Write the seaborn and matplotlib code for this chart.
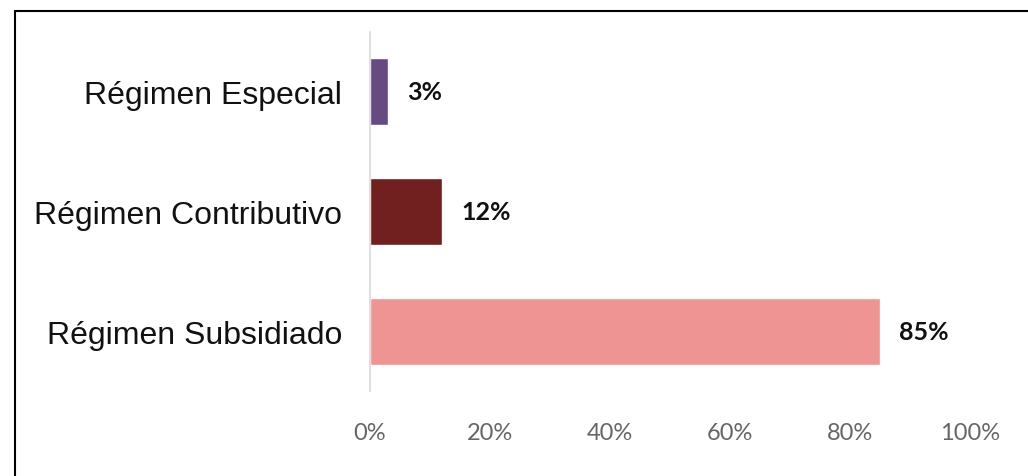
import matplotlib
matplotlib.use("Agg")
import matplotlib.pyplot as plt
import seaborn as sns
import pandas as pd
from matplotlib.lines import Line2D
from matplotlib.ticker import PercentFormatter

# Datos
categorias = ["Régimen Especial", "Régimen Contributivo", "Régimen Subsidiado"]
valores = [0.03, 0.12, 0.85]
etiquetas = ["3%", "12%", "85%"]
colores = ["#684A82", "#711F1F", "#EE9594"]

df = pd.DataFrame({"categoria": categorias, "valor": valores})

sns.set_style("white")

fig = plt.figure(figsize=(10.28, 4.77), dpi=100)
ax = fig.add_axes([370 / 1028, 1 - 392 / 477, 600 / 1028, (392 - 33) / 477])

sns.barplot(data=df, x="valor", y="categoria", hue="categoria",
            palette=colores, width=0.56, legend=False, ax=ax, saturation=1)

ax.set_xlim(0, 1)
ax.set_ylim(2.5, -0.5)
ax.xaxis.set_major_formatter(PercentFormatter(1.0, decimals=0))
ax.set_xticks([0, 0.2, 0.4, 0.6, 0.8, 1.0])
ax.set_xlabel("")
ax.set_ylabel("")

for s in ["top", "right", "bottom"]:
    ax.spines[s].set_visible(False)
ax.spines["left"].set_color("#D9D9D9")
ax.spines["left"].set_linewidth(1.2)

ax.tick_params(axis="both", length=0)
ax.tick_params(axis="x", pad=22, labelsize=17, labelcolor="#666666")
ax.tick_params(axis="y", pad=20, labelsize=23, labelcolor="#111111")
for t in ax.get_xticklabels():
    t.set_fontfamily("Lato")
for t in ax.get_yticklabels():
    t.set_fontfamily("Liberation Sans")

# Etiquetas de valores
for i, (v, lab) in enumerate(zip(valores, etiquetas)):
    ax.annotate(lab, xy=(v, i), xytext=(14, 0), textcoords="offset points",
                ha="left", va="center", fontsize=18, fontweight="bold",
                family="Lato", color="#111111")

# Borde de la figura (arriba e izquierda)
fig.add_artist(Line2D([14.5 / 1028, 1], [1 - 12 / 477, 1 - 12 / 477],
                      transform=fig.transFigure, color="black", lw=1.5))
fig.add_artist(Line2D([14.5 / 1028, 14.5 / 1028], [0, 1 - 12 / 477],
                      transform=fig.transFigure, color="black", lw=1.5))

fig.savefig("out.png", dpi=100)
